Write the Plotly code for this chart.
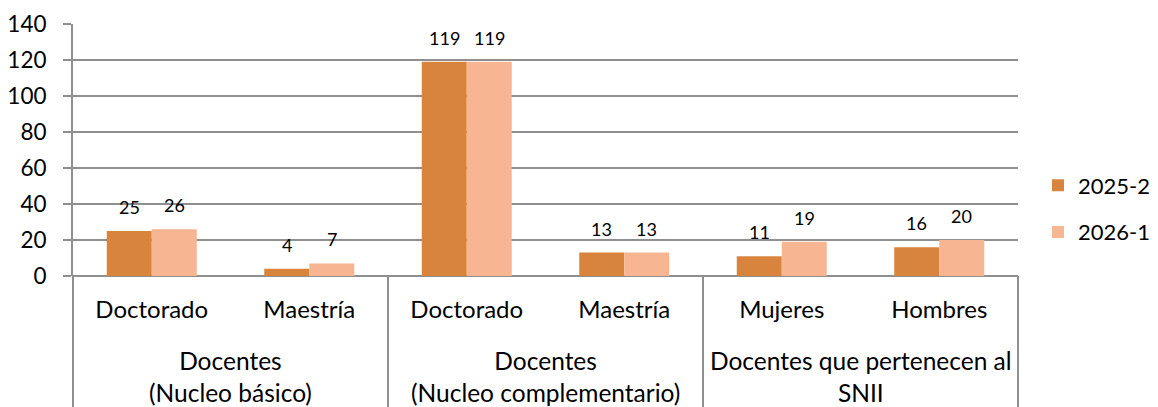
import plotly.graph_objects as go

subcats = ["Doctorado", "Maestría", "Doctorado", "Maestría", "Mujeres", "Hombres"]
groups = ["Docentes<br>(Nucleo básico)", "Docentes<br>(Nucleo complementario)", "Docentes que pertenecen al<br>SNII"]
group_sizes = [2, 2, 2]
series_names = ["2025-2", "2026-1"]
values_2025_2 = [25, 4, 119, 13, 11, 16]
values_2026_1 = [26, 7, 119, 13, 19, 20]
colors = ["#D9843D", "#F7B591"]

FONT = "Lato"
xpos = list(range(len(subcats)))

W, H = 1150, 399  # page body has an 8px margin

fig = go.Figure()
for name, vals, col in zip(series_names, [values_2025_2, values_2026_1], colors):
    fig.add_trace(go.Bar(x=xpos, y=vals, name=name, marker=dict(color=col, line=dict(width=0)),
                         legendgroup=name))

# data labels
for si, vals in enumerate([values_2025_2, values_2026_1]):
    shift = -22.5 if si == 0 else 22.5
    for xi, v in zip(xpos, vals):
        fig.add_annotation(x=xi, y=v, text=str(v), showarrow=False, xshift=shift, yshift=24,
                           yanchor="middle", font=dict(family=FONT, size=18, color="#000"))

# group labels and dividers
n = len(subcats)
start = 0
LINE = dict(color="#8F8F8F", width=2)
fig.add_shape(type="line", xref="paper", yref="paper", x0=0, x1=0, y0=0, y1=-0.55, line=LINE)
for g, size in zip(groups, group_sizes):
    center = start + (size - 1) / 2
    fig.add_annotation(x=center, xref="x", y=-0.27, yref="paper", text=g, showarrow=False,
                       yanchor="top", font=dict(family=FONT, size=24.5, color="#000"))
    end = start + size
    xp = end / n
    fig.add_shape(type="line", xref="paper", yref="paper", x0=xp, x1=xp, y0=0, y1=-0.55, line=LINE)
    start = end

fig.update_layout(
    width=W, height=H,
    margin=dict(l=65, r=140, t=16, b=131, autoexpand=False),
    paper_bgcolor="white", plot_bgcolor="white",
    barmode="group", bargap=0.4286, bargroupgap=0,
    font=dict(family=FONT, size=22, color="#000"),
    showlegend=True,
    legend=dict(xref="container", yref="container", x=1030 / W, y=(H - 201) / H,
                xanchor="left", yanchor="middle", traceorder="grouped",
                tracegroupgap=15, font=dict(family=FONT, size=22, color="#000"),
                bgcolor="rgba(0,0,0,0)"),
    xaxis=dict(range=[-0.5, 5.5], tickmode="array", tickvals=xpos, ticktext=subcats,
               showgrid=False, zeroline=False, showline=False, ticks="", automargin=False,
               tickfont=dict(family=FONT, size=24, color="#000"), ticklabelstandoff=17),
    yaxis=dict(range=[0, 140], tickvals=[0, 20, 40, 60, 80, 100, 120, 140], automargin=False,
               showgrid=True, gridcolor="#8F8F8F", gridwidth=2,
               zeroline=True, zerolinecolor="#8F8F8F", zerolinewidth=2,
               showline=True, linecolor="#8F8F8F", linewidth=2,
               ticks="outside", ticklen=8, tickcolor="#8F8F8F", tickwidth=2,
               tickfont=dict(family=FONT, size=22.5, color="#000"), ticklabelstandoff=12),
)

fig.write_html("out.html")
